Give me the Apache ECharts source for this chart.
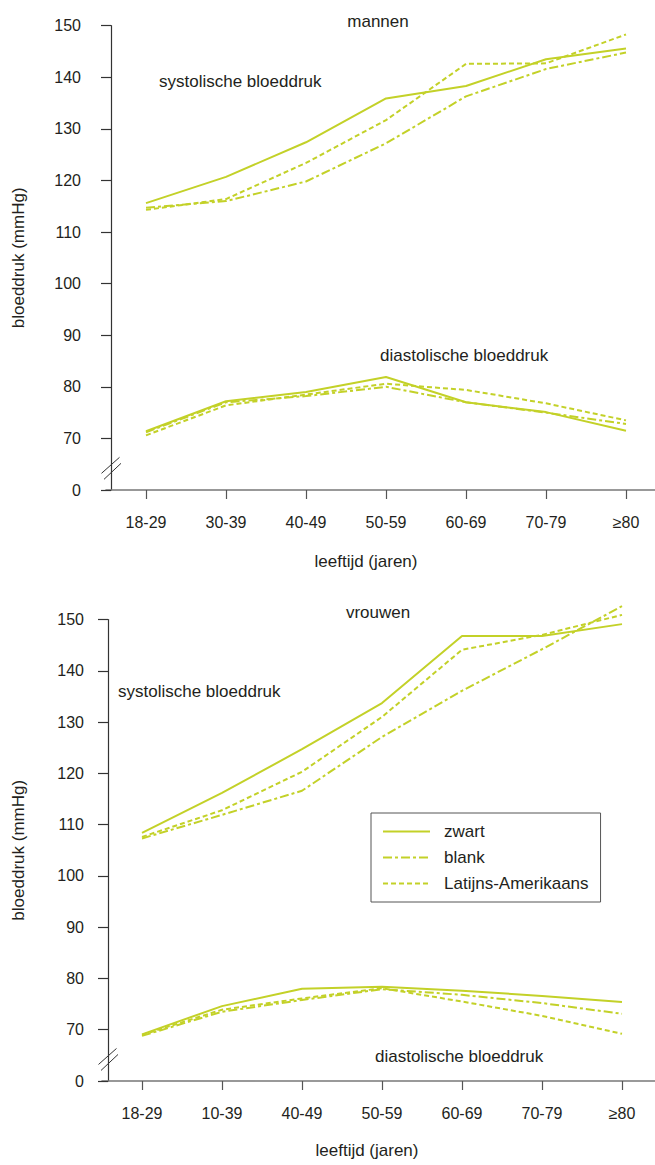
<!DOCTYPE html>
<html>
<head>
<meta charset="utf-8">
<script src="https://cdn.jsdelivr.net/npm/echarts@6/dist/echarts.min.js"></script>
<style>
  html, body { margin: 0; padding: 0; background: #ffffff; }
  #chart { width: 655px; height: 1165px; }
</style>
</head>
<body>
<div id="chart"></div>
<script>
// ---------- data ----------
const categoriesMen   = ['18-29', '30-39', '40-49', '50-59', '60-69', '70-79', '≥80'];
const categoriesWomen = ['18-29', '10-39', '40-49', '50-59', '60-69', '70-79', '≥80'];
const groupNames = ['zwart', 'blank', 'Latijns-Amerikaans'];

// axis: value 60 is drawn as "0" (broken axis)
const yTickValues = [60, 70, 80, 90, 100, 110, 120, 130, 140, 150];
const yTickLabels = ['0', '70', '80', '90', '100', '110', '120', '130', '140', '150'];

// mannen
const menSysZwart  = [115.6, 120.7, 127.4, 135.9, 138.3, 143.5, 145.6];
const menSysBlank  = [114.7, 116.0, 119.8, 127.2, 136.3, 141.6, 144.8];
const menSysLatijn = [114.3, 116.4, 123.4, 131.7, 142.6, 142.7, 148.3];
const menDiaZwart  = [71.4, 77.2, 79.0, 81.9, 77.0, 75.1, 71.5];
const menDiaBlank  = [71.2, 77.0, 78.2, 80.0, 77.0, 75.0, 72.8];
const menDiaLatijn = [70.6, 76.4, 78.5, 80.6, 79.4, 76.8, 73.5];

// vrouwen
const womSysZwart  = [108.4, 116.2, 124.7, 133.7, 146.8, 146.8, 149.1];
const womSysBlank  = [107.3, 111.9, 116.6, 127.1, 136.1, 144.2, 152.6];
const womSysLatijn = [107.6, 112.8, 120.3, 131.0, 144.1, 147.0, 150.9];
const womDiaZwart  = [69.1, 74.6, 78.0, 78.4, 77.6, 76.6, 75.4];
const womDiaBlank  = [68.8, 73.5, 75.8, 77.9, 76.8, 75.2, 73.1];
const womDiaLatijn = [69.0, 73.9, 76.1, 78.1, 75.5, 72.7, 69.2];

// ---------- styles ----------
const LINE_COLOR = '#c3d128';
const TEXT_COLOR = '#231f20';
const FONT = '"Liberation Sans", Arial, Helvetica, sans-serif';
const dashTypes = ['solid', [9, 3, 3, 3], [5, 3]];

const chart = echarts.init(document.getElementById('chart'), null, { renderer: 'svg' });

function yAxisFor(gridIndex, offset, labelMargin, nameGap) {
  return {
    type: 'value', gridIndex: gridIndex, min: yTickValues[0], max: yTickValues[yTickValues.length - 1], interval: 10,
    offset: offset,
    name: 'bloeddruk (mmHg)', nameLocation: 'middle', nameGap: nameGap, nameRotate: 90,
    nameTextStyle: { color: TEXT_COLOR, fontSize: 17, fontFamily: FONT },
    axisLine: { show: true, lineStyle: { color: '#333', width: 1.2 } },
    axisTick: { show: true, inside: false, length: 10, lineStyle: { color: '#333', width: 1.2 } },
    splitLine: { show: false },
    axisLabel: {
      color: TEXT_COLOR, fontSize: 16, fontFamily: FONT, margin: labelMargin,
      formatter: function (v) { const i = yTickValues.indexOf(v); return i >= 0 ? yTickLabels[i] : ''; }
    }
  };
}

function xAxisFor(gridIndex, cats, nameGap, namePadRight) {
  return {
    type: 'category', gridIndex: gridIndex, data: cats, boundaryGap: true,
    name: 'leeftijd (jaren)', nameLocation: 'middle', nameGap: nameGap,
    nameTextStyle: { color: TEXT_COLOR, fontSize: 17, fontFamily: FONT, padding: [0, namePadRight, 0, 0] },
    axisLine: { show: true, lineStyle: { color: '#777', width: 1.6 } },
    axisTick: { show: true, alignWithLabel: true, interval: 0, length: 9, lineStyle: { color: '#555', width: 1.2 } },
    axisLabel: { color: TEXT_COLOR, fontSize: 16, fontFamily: FONT, margin: 24, interval: 0 },
    splitLine: { show: false }
  };
}

function lineSeries(name, idx, axisIndex, data) {
  return {
    type: 'line', name: name, xAxisIndex: axisIndex, yAxisIndex: axisIndex, data: data,
    symbol: 'none', silent: true, clip: false,
    lineStyle: { color: LINE_COLOR, width: 2, type: dashTypes[idx] },
    itemStyle: { color: LINE_COLOR }
  };
}

const series = [
  lineSeries(groupNames[0], 0, 0, menSysZwart),
  lineSeries(groupNames[1], 1, 0, menSysBlank),
  lineSeries(groupNames[2], 2, 0, menSysLatijn),
  lineSeries(groupNames[0], 0, 0, menDiaZwart),
  lineSeries(groupNames[1], 1, 0, menDiaBlank),
  lineSeries(groupNames[2], 2, 0, menDiaLatijn),
  lineSeries(groupNames[0], 0, 1, womSysZwart),
  lineSeries(groupNames[1], 1, 1, womSysBlank),
  lineSeries(groupNames[2], 2, 1, womSysLatijn),
  lineSeries(groupNames[0], 0, 1, womDiaZwart),
  lineSeries(groupNames[1], 1, 1, womDiaBlank),
  lineSeries(groupNames[2], 2, 1, womDiaLatijn)
];

function txt(text, x, y, align) {
  return {
    type: 'text', x: x, y: y, silent: true,
    style: { text: text, fill: TEXT_COLOR, font: '17px ' + FONT, align: align || 'left', verticalAlign: 'middle' }
  };
}

const annotations = [
  txt('mannen', 378, 21, 'center'),
  txt('systolische bloeddruk', 159, 81),
  txt('diastolische bloeddruk', 380, 355),
  txt('vrouwen', 378, 612, 'center'),
  txt('systolische bloeddruk', 118, 691),
  txt('diastolische bloeddruk', 375, 1056)
];

chart.setOption({
  animation: false,
  backgroundColor: '#ffffff',
  textStyle: { fontFamily: FONT },
  grid: [
    { left: 106, top: 25.7, width: 560, height: 464.3, containLabel: false, outerBoundsMode: 'none' },
    { left: 102, top: 619.5, width: 560, height: 461.5, containLabel: false, outerBoundsMode: 'none' }
  ],
  xAxis: [
    xAxisFor(0, categoriesMen, 63, 40),
    xAxisFor(1, categoriesWomen, 61, 30)
  ],
  yAxis: [
    yAxisFor(0, -5, 30, 84),
    yAxisFor(1, -6, 24, 81)
  ],
  legend: {
    data: groupNames,
    orient: 'vertical', left: 371, top: 813,
    itemWidth: 47, itemHeight: 14, itemGap: 9,
    padding: [10, 12, 10, 11],
    borderColor: '#555', borderWidth: 1,
    backgroundColor: '#fff',
    selectedMode: false,
    itemStyle: { opacity: 0 },
    textStyle: { color: TEXT_COLOR, fontSize: 17, fontFamily: FONT, padding: [0, 0, 0, 9] }
  },
  series: series,
  graphic: annotations
});

// axis break marks ("//") on both y-axes, placed via the axis scale
function breakMark(axisX, cy) {
  const st = { stroke: '#333', lineWidth: 1 };
  return [
    { type: 'line', silent: true, shape: { x1: axisX - 9.5, y1: cy + 5, x2: axisX + 8.5, y2: cy - 11 }, style: st },
    { type: 'line', silent: true, shape: { x1: axisX - 7, y1: cy + 11, x2: axisX + 10, y2: cy - 5 }, style: st }
  ];
}
const cyTop = chart.convertToPixel({ yAxisIndex: 0 }, 64.2);
const cyBot = chart.convertToPixel({ yAxisIndex: 1 }, 64.2);
chart.setOption({
  graphic: annotations.concat(breakMark(111, cyTop), breakMark(108, cyBot))
}, { replaceMerge: ['graphic'] });
</script>
</body>
</html>
